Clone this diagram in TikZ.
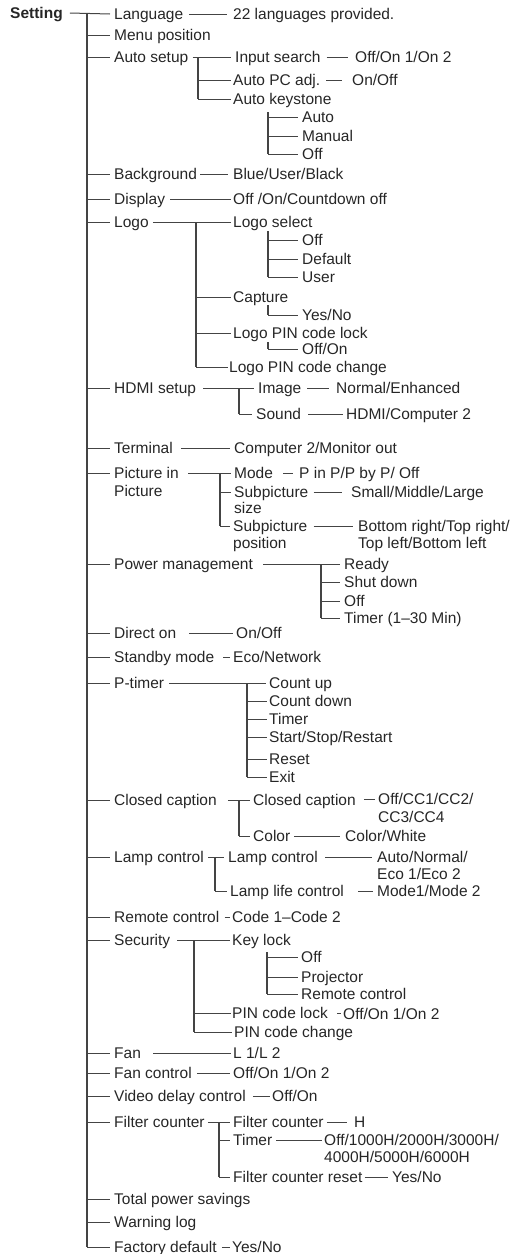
\documentclass[tikz,border=0pt]{standalone}
\usepackage{fontspec}
\setmainfont{Liberation Sans}
\definecolor{txt}{HTML}{262626}
\definecolor{lnc}{HTML}{444444}
\newcommand{\fsz}{\fontsize{15.5}{17}\selectfont}
\begin{document}
\begin{tikzpicture}[x=1pt,y=-1pt,
  t/.style={anchor=west,inner sep=0pt,text height=10pt,text depth=0pt,font=\fsz,text=txt},
  h/.style={draw=lnc,line width=1pt},
  v/.style={draw=lnc,line width=1.6pt},
  tr/.style={draw=lnc,line width=2pt}]
\useasboundingbox (0,0) rectangle (532,1254);
% level 0
\node[t,font=\fsz\bfseries] (setting) at (10,13) {Setting};
% level 1
\node[t] (lang) at (114,14) {Language};
\node[t] (menu) at (114,35) {Menu position};
\node[t] (autos) at (114,57) {Auto setup};
\node[t] (bg) at (114,174) {Background};
\node[t] (disp) at (114,199) {Display};
\node[t] (logo) at (114,222) {Logo};
\node[t] (hdmi) at (114,388) {HDMI setup};
\node[t] (term) at (114,448) {Terminal};
\node[t] (pip) at (114,473) {Picture in};
\node[t] (pipb) at (114,491) {Picture};
\node[t] (power) at (114,564) {Power management};
\node[t] (direct) at (114,633) {Direct on};
\node[t] (standby) at (114,657) {Standby mode};
\node[t] (ptimer) at (114,683) {P-timer};
\node[t] (cc) at (114,800) {Closed caption};
\node[t] (lamp) at (114,857) {Lamp control};
\node[t] (remote) at (114,917) {Remote control};
\node[t] (security) at (114,940) {Security};
\node[t] (fan) at (114,1053) {Fan};
\node[t] (fanc) at (114,1073) {Fan control};
\node[t] (video) at (114,1096) {Video delay control};
\node[t] (filter) at (114,1122) {Filter counter};
\node[t] (total) at (114,1199) {Total power savings};
\node[t] (warn) at (114,1222) {Warning log};
\node[t] (factory) at (114,1247) {Factory default};
% trunk
\coordinate (trk) at (87,14);
\draw[tr] (trk) -- (trk |- factory.west);
\draw[h] ([xshift=7pt]setting.east) -- ([xshift=-4pt]lang.west);
\foreach \n in {menu,autos,bg,disp,logo,hdmi,term,pip,power,direct,standby,ptimer,cc,lamp,remote,security,fan,fanc,video,filter,total,warn,factory}
  \draw[h] (trk |- \n.west) -- ([xshift=-4pt]\n.west);
% Language
\node[t] (langv) at (233,14) {22 languages provided.};
\draw[h] ([xshift=6pt]lang.east) -- ([xshift=-6pt]langv.west);
% Auto setup
\node[t] (is) at (235,57) {Input search};
\node[t] (isv) at (355,57) {Off/On 1/On 2};
\node[t] (apc) at (233,80) {Auto PC adj.};
\node[t] (apcv) at (352,80) {On/Off};
\node[t] (aks) at (233,99) {Auto keystone};
\node[t] (ak1) at (302,117) {Auto};
\node[t] (ak2) at (302,136) {Manual};
\node[t] (ak3) at (302,154) {Off};
\draw[h] ([xshift=4pt]autos.east) -- ([xshift=-4pt]is.west);
\coordinate (vas) at (198,57);
\draw[v] (vas) -- (vas |- aks.west);
\foreach \n in {apc,aks} \draw[h] (vas |- \n.west) -- ([xshift=-2pt]\n.west);
\draw[h] ([xshift=6pt]is.east) -- ([xshift=-7pt]isv.west);
\draw[h] ([xshift=6pt]apc.east) -- ([xshift=-10pt]apcv.west);
\coordinate (vak) at (268,112);
\draw[v] (vak) -- (vak |- ak3.west);
\foreach \n in {ak1,ak2,ak3} \draw[h] (vak |- \n.west) -- ([xshift=-4pt]\n.west);
% Background, Display
\node[t] (bgv) at (233,174) {Blue/User/Black};
\draw[h] ([xshift=3pt]bg.east) -- ([xshift=-5pt]bgv.west);
\node[t] (dispv) at (233,199) {Off /On/Countdown off};
\draw[h] ([xshift=5pt]disp.east) -- ([xshift=-2pt]dispv.west);
% Logo
\node[t] (ls) at (233,222) {Logo select};
\node[t] (ls1) at (302,240) {Off};
\node[t] (ls2) at (302,259) {Default};
\node[t] (ls3) at (302,277) {User};
\node[t] (cap) at (233,297) {Capture};
\node[t] (capv) at (302,315) {Yes/No};
\node[t] (lpl) at (233,333) {Logo PIN code lock};
\node[t] (lplv) at (302,349) {Off/On};
\node[t] (lpc) at (229,367) {Logo PIN code change};
\draw[h] ([xshift=4pt]logo.east) -- ([xshift=-2pt]ls.west);
\coordinate (vlogo) at (196,222);
\draw[v] (vlogo) -- (vlogo |- lpc.west);
\foreach \n in {cap,lpl} \draw[h] (vlogo |- \n.west) -- ([xshift=-2pt]\n.west);
\draw[h] (vlogo |- lpc.west) -- ([xshift=-1pt]lpc.west);
\coordinate (vls) at (268,231);
\draw[v] (vls) -- (vls |- ls3.west);
\foreach \n in {ls1,ls2,ls3} \draw[h] (vls |- \n.west) -- ([xshift=-4pt]\n.west);
\coordinate (vcap) at (268,305);
\draw[v] (vcap) -- (vcap |- capv.west);
\draw[h] (vcap |- capv.west) -- ([xshift=-4pt]capv.west);
\coordinate (vlpl) at (268,342);
\draw[v] (vlpl) -- (vlpl |- lplv.west);
\draw[h] (vlpl |- lplv.west) -- ([xshift=-4pt]lplv.west);
% HDMI
\node[t] (img) at (258,388) {Image};
\node[t] (imgv) at (336,388) {Normal/Enhanced};
\node[t] (snd) at (256,414) {Sound};
\node[t] (sndv) at (346,414) {HDMI/Computer 2};
\draw[h] ([xshift=7pt]hdmi.east) -- ([xshift=-4pt]img.west);
\coordinate (vh) at (239,388);
\draw[v] (vh) -- (vh |- snd.west);
\draw[h] (vh |- snd.west) -- ([xshift=-4pt]snd.west);
\draw[h] ([xshift=6pt]img.east) -- ([xshift=-7pt]imgv.west);
\draw[h] ([xshift=7pt]snd.east) -- ([xshift=-3pt]sndv.west);
% Terminal
\node[t] (termv) at (234,448) {Computer 2/Monitor out};
\draw[h] ([xshift=8pt]term.east) -- ([xshift=-4pt]termv.west);
% Picture in Picture
\node[t] (mode) at (234,473) {Mode};
\node[t] (modev) at (299,473) {P in P/P by P/ Off};
\node[t] (sps) at (234,492) {Subpicture};
\node[t] (spsb) at (234,508) {size};
\node[t] (spsv) at (351,492) {Small/Middle/Large};
\node[t] (spp) at (233,526) {Subpicture};
\node[t] (sppb) at (233,543) {position};
\node[t] (sppv) at (358,526) {Bottom right/Top right/};
\node[t] (sppvb) at (358,543) {Top left/Bottom left};
\draw[h] ([xshift=9pt]pip.east) -- ([xshift=-3pt]mode.west);
\coordinate (vp) at (220,473);
\draw[v] (vp) -- (vp |- spp.west);
\foreach \n in {sps,spp} \draw[h] (vp |- \n.west) -- ([xshift=-3pt]\n.west);
\draw[h] ([xshift=10pt]mode.east) -- ([xshift=-6pt]modev.west);
\draw[h] ([xshift=5pt]sps.east) -- ([xshift=-9pt]spsv.west);
\draw[h] ([xshift=6pt]spp.east) -- ([xshift=-5pt]sppv.west);
% Power management
\node[t] (pw1) at (344,564) {Ready};
\node[t] (pw2) at (344,582) {Shut down};
\node[t] (pw3) at (344,601) {Off};
\node[t] (pw4) at (344,618) {Timer (1–30 Min)};
\draw[h] ([xshift=10pt]power.east) -- ([xshift=-4pt]pw1.west);
\coordinate (vpw) at (321,564);
\draw[v] (vpw) -- (vpw |- pw4.west);
\foreach \n in {pw2,pw3,pw4} \draw[h] (vpw |- \n.west) -- ([xshift=-4pt]\n.west);
% Direct on, Standby
\node[t] (directv) at (236,633) {On/Off};
\draw[h] ([xshift=13pt]direct.east) -- ([xshift=-3pt]directv.west);
\node[t] (standbyv) at (233,657) {Eco/Network};
\draw[h] ([xshift=9pt]standby.east) -- ([xshift=-3pt]standbyv.west);
% P-timer
\node[t] (pt1) at (269,683) {Count up};
\node[t] (pt2) at (269,701) {Count down};
\node[t] (pt3) at (269,719) {Timer};
\node[t] (pt4) at (269,737) {Start/Stop/Restart};
\node[t] (pt5) at (269,759) {Reset};
\node[t] (pt6) at (269,777) {Exit};
\draw[h] ([xshift=5pt]ptimer.east) -- ([xshift=-3pt]pt1.west);
\coordinate (vpt) at (247,683);
\draw[v] (vpt) -- (vpt |- pt6.west);
\foreach \n in {pt2,pt3,pt4,pt5,pt6} \draw[h] (vpt |- \n.west) -- ([xshift=-2pt]\n.west);
% Closed caption
\node[t] (ccs) at (253,800) {Closed caption};
\node[t] (ccv) at (378,799) {Off/CC1/CC2/};
\node[t] (ccvb) at (378,817) {CC3/CC4};
\node[t] (col) at (253,836) {Color};
\node[t] (colv) at (345,836) {Color/White};
\draw[h] ([xshift=11pt]cc.east) -- ([xshift=-3pt]ccs.west);
\coordinate (vcc) at (239,800);
\draw[v] (vcc) -- (vcc |- col.west);
\draw[h] (vcc |- col.west) -- ([xshift=-3pt]col.west);
\draw[h] ([xshift=8pt]ccs.east |- ccv.west) -- ([xshift=-3pt]ccv.west);
\draw[h] ([xshift=4pt]col.east) -- ([xshift=-5pt]colv.west);
% Lamp control
\node[t] (lamps) at (228,857) {Lamp control};
\node[t] (lampv) at (377,857) {Auto/Normal/};
\node[t] (lampvb) at (377,874) {Eco 1/Eco 2};
\node[t] (life) at (230,891) {Lamp life control};
\node[t] (lifev) at (377,891) {Mode1/Mode 2};
\draw[h] ([xshift=4pt]lamp.east) -- ([xshift=-4pt]lamps.west);
\coordinate (vl) at (215,857);
\draw[v] (vl) -- (vl |- life.west);
\draw[h] (vl |- life.west) -- ([xshift=-3pt]life.west);
\draw[h] ([xshift=7pt]lamps.east) -- ([xshift=-5pt]lampv.west);
\draw[h] ([xshift=14pt]life.east) -- ([xshift=-4pt]lifev.west);
% Remote control
\node[t] (remotev) at (232,917) {Code 1–Code 2};
\draw[h] ([xshift=5pt]remote.east) -- ([xshift=-2pt]remotev.west);
% Security
\node[t] (kl) at (232,940) {Key lock};
\node[t] (kl1) at (301,957) {Off};
\node[t] (kl2) at (301,977) {Projector};
\node[t] (kl3) at (301,994) {Remote control};
\node[t] (pinl) at (232,1013) {PIN code lock};
\node[t] (pinlv) at (343,1014) {Off/On 1/On 2};
\node[t] (pinc) at (234,1032) {PIN code change};
\draw[h] ([xshift=7pt]security.east) -- ([xshift=-2pt]kl.west);
\coordinate (vs) at (194,940);
\draw[v] (vs) -- (vs |- pinc.west);
\draw[h] (vs |- pinl.west) -- ([xshift=-1pt]pinl.west);
\draw[h] (vs |- pinc.west) -- ([xshift=-2pt]pinc.west);
\coordinate (vkl) at (267,952);
\draw[v] (vkl) -- (vkl |- kl3.west);
\foreach \n in {kl1,kl2,kl3} \draw[h] (vkl |- \n.west) -- ([xshift=-3pt]\n.west);
\draw[h] ([xshift=9pt]pinl.east) -- ([xshift=-2pt]pinl.east -| pinlv.west);
% Fan etc.
\node[t] (fanv) at (233,1053) {L 1/L 2};
\draw[h] ([xshift=12pt]fan.east) -- ([xshift=-2pt]fanv.west);
\node[t] (fancv) at (233,1073) {Off/On 1/On 2};
\draw[h] ([xshift=5pt]fanc.east) -- ([xshift=-3pt]fancv.west);
\node[t] (videov) at (272,1096) {Off/On};
\draw[h] ([xshift=7pt]video.east) -- ([xshift=-2pt]videov.west);
% Filter counter
\node[t] (fcs) at (233,1122) {Filter counter};
\node[t] (fcsv) at (354,1122) {H};
\node[t] (ft) at (233,1140) {Timer};
\node[t] (ftv) at (324,1140) {Off/1000H/2000H/3000H/};
\node[t] (ftvb) at (324,1157) {4000H/5000H/6000H};
\node[t] (fcr) at (233,1177) {Filter counter reset};
\node[t] (fcrv) at (392,1177) {Yes/No};
\draw[h] ([xshift=3pt]filter.east) -- ([xshift=-3pt]fcs.west);
\coordinate (vf) at (219,1122);
\draw[v] (vf) -- (vf |- fcr.west);
\foreach \n in {ft,fcr} \draw[h] (vf |- \n.west) -- ([xshift=-3pt]\n.west);
\draw[h] ([xshift=3pt]fcs.east) -- ([xshift=-7pt]fcsv.west);
\draw[h] ([xshift=4pt]ft.east) -- ([xshift=-2pt]ftv.west);
\draw[h] ([xshift=2pt]fcr.east) -- ([xshift=-4pt]fcrv.west);
% Factory default
\node[t] (factoryv) at (232,1247) {Yes/No};
\draw[h] ([xshift=5pt]factory.east) -- ([xshift=-2pt]factoryv.west);
\end{tikzpicture}
\end{document}
